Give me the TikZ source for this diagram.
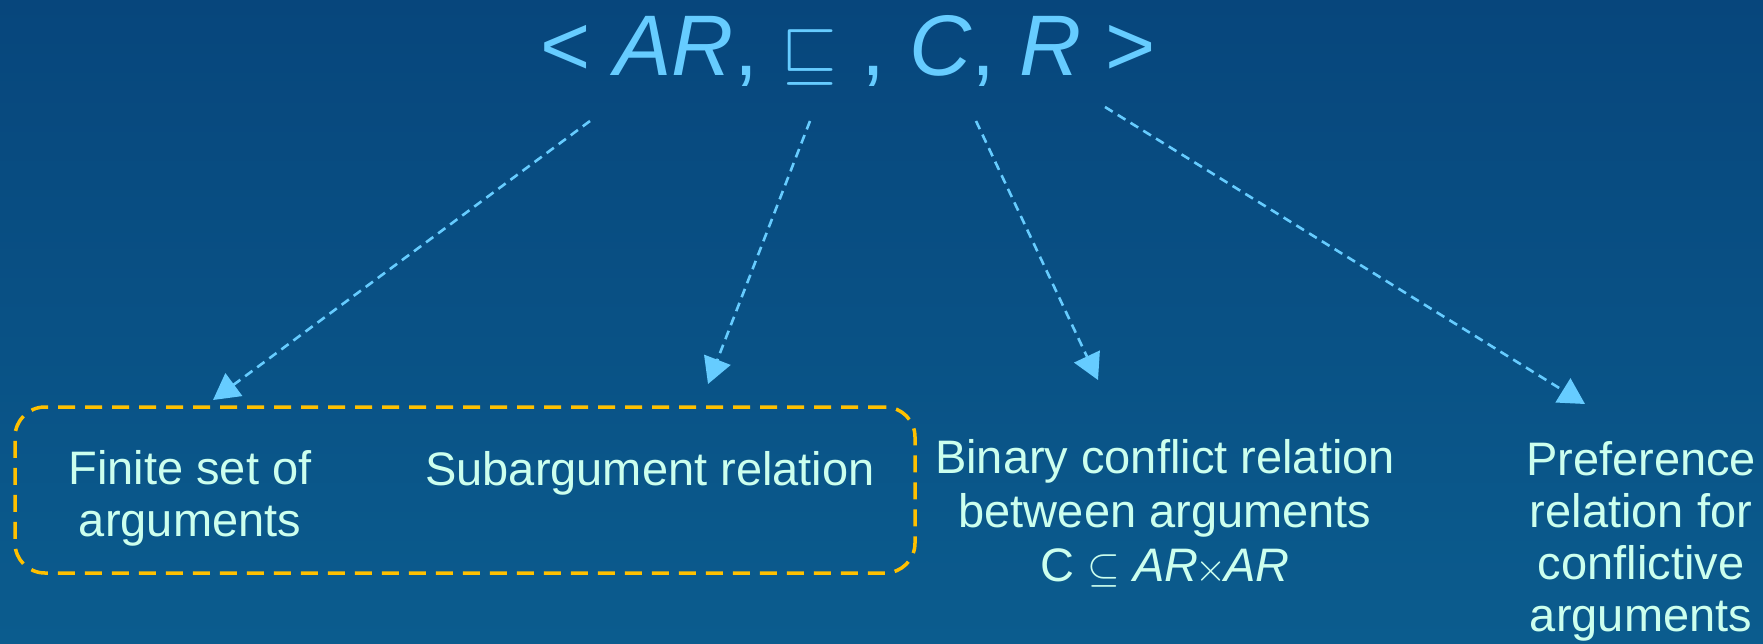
\documentclass[tikz,border=0pt]{standalone}
\usepackage{graphicx}
\usepackage{fontspec}
\setmainfont{Liberation Sans}
\usetikzlibrary{arrows.meta}
\definecolor{bgtop}{RGB}{7,70,124}
\definecolor{bgbot}{RGB}{11,92,142}
\definecolor{titleblue}{RGB}{102,204,255}
\definecolor{paletext}{RGB}{204,255,238}
\definecolor{gold}{RGB}{255,192,0}
\newcommand{\mlines}[1]{\begin{tabular}[t]{@{}c@{}}#1\end{tabular}}
\newcommand{\bigsym}[2]{{\fontsize{10}{12}\selectfont\scalebox{#1}{$#2$}}}
\begin{document}
\begin{tikzpicture}[x=1pt,y=-1pt,
  titletext/.style={text=titleblue, font=\fontsize{86}{94}\selectfont, inner sep=0pt, anchor=base},
  desc/.style={text=paletext, font=\fontsize{47}{52}\selectfont, inner sep=0pt, anchor=base},
  conn/.style={draw=titleblue, line width=2.6pt, dash pattern=on 9pt off 6pt, -{Triangle[length=26pt,width=28pt]}},
  groupbox/.style={draw=gold, line width=3.5pt, dash pattern=on 17pt off 10pt, rounded corners=30pt, minimum width=900pt, minimum height=166pt, inner sep=0pt}]
\useasboundingbox (0,0) rectangle (1763,643);
\shade[top color=bgtop, bottom color=bgbot] (0,0) rectangle (1763,643);

\node[titletext] (title) at (848,75) {< \textit{AR}, \bigsym{7.2}{\sqsubseteq} , \textit{C}, \textit{R} >};

\node[groupbox] (grp) at (465,490) {};
\node[desc] (fin) at (190,484) {\mlines{Finite set of\\arguments}};
\node[desc] (sub) at (650,485) {Subargument relation};
\node[desc, font=\fontsize{47}{54}\selectfont] (bin) at (1165,473) {\mlines{Binary conflict relation\\between arguments\\C \bigsym{4.2}{\subseteq} \textit{AR}\kern-3pt\bigsym{4}{\times}\kern-2pt\textit{AR}}};
\node[desc] (pref) at (1641,475) {\mlines{Preference\\relation for\\conflictive\\arguments}};

\coordinate (s1) at (590,121);
\coordinate (e1) at (213,400);
\coordinate (s2) at (810,121);
\coordinate (e2) at (708,384);
\coordinate (s3) at (976,121);
\coordinate (e3) at (1098,380);
\coordinate (s4) at (1105,107);
\coordinate (e4) at (1585,404);

\draw[conn] (s1) -- (e1);
\draw[conn] (s2) -- (e2);
\draw[conn] (s3) -- (e3);
\draw[conn] (s4) -- (e4);
\end{tikzpicture}
\end{document}
